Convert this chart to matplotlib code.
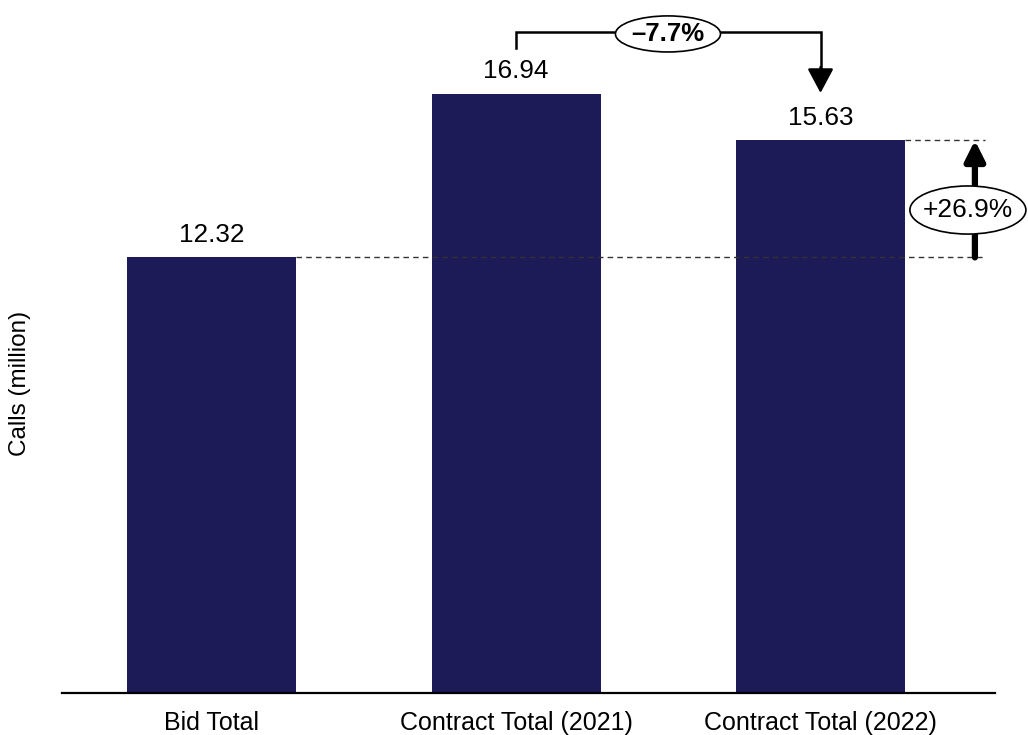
import matplotlib
matplotlib.use('Agg')
import matplotlib.pyplot as plt
from matplotlib.patches import Ellipse

plt.rcParams['font.family'] = ['Liberation Sans', 'DejaVu Sans']

categories = ['Bid Total', 'Contract Total (2021)', 'Contract Total (2022)']
calls = [12.32, 16.94, 15.63]
change_2021_2022 = '\u20137.7%'
change_bid_2022 = '+26.9%'

bar_color = '#1c1a57'

fig = plt.figure(figsize=(10.28, 7.35), dpi=100)
ax = fig.add_axes([62/1028, 42/735, 933/1028, 693/735])

x = list(range(len(categories)))
bar_w = 0.555
ax.bar(x, calls, width=bar_w, color=bar_color, zorder=2)

for xi, v in zip(x, calls):
    ax.text(xi, v + 0.3, f'{v:.2f}', ha='center', va='bottom', fontsize=18.8)

ax.set_xlim(-0.491, 2.573)
ax.set_ylim(0, 19.6)
for s in ['top', 'right', 'left']:
    ax.spines[s].set_visible(False)
ax.spines['bottom'].set_linewidth(1.6)
ax.set_yticks([])
ax.set_xticks(x)
ax.set_xticklabels(categories, fontsize=18)
ax.tick_params(axis='x', length=0, pad=13)

fig.text(20/1028, 1 - 383/735, 'Calls (million)', rotation=90,
         ha='center', va='center', fontsize=17.5)

# dashed reference lines
x_end = 2.54
ax.plot([x[0] + bar_w/2, x_end], [calls[0], calls[0]], ls=(0, (4, 3)),
        color='#333333', lw=1, zorder=3, clip_on=False)
ax.plot([x[2] + bar_w/2, x_end], [calls[2], calls[2]], ls=(0, (4, 3)),
        color='#333333', lw=1, zorder=3, clip_on=False)

# bracket 2021 -> 2022
top = 18.7
ax.plot([x[1], x[1], x[2], x[2]], [18.25, top, top, 17.6], color='black',
        lw=1.8, clip_on=False, solid_joinstyle='miter')
ax.annotate('', xy=(x[2], 16.97), xytext=(x[2], 17.7),
            arrowprops=dict(arrowstyle='-|>,head_width=0.4,head_length=0.75',
                            color='black', lw=1.8, mutation_scale=20,
                            shrinkA=0, shrinkB=0),
            annotation_clip=False)
ax.add_patch(Ellipse((1.499, 18.64), 0.345, 1.02, facecolor='white',
                     edgecolor='black', lw=1.2, zorder=5, clip_on=False))
ax.text(1.499, 18.64, change_2021_2022, ha='center', va='center',
        fontsize=18.5, fontweight='bold', zorder=6, clip_on=False)

# bid -> 2022 arrow
xa = 2.507
ax.annotate('', xy=(xa, calls[2]), xytext=(xa, calls[0]),
            arrowprops=dict(arrowstyle='-|>,head_width=0.3,head_length=0.6',
                            color='black', lw=4.5, mutation_scale=20,
                            shrinkA=0, shrinkB=0),
            annotation_clip=False, zorder=4)
ax.add_patch(Ellipse((2.484, 13.66), 0.381, 1.36, facecolor='white',
                     edgecolor='black', lw=1.2, zorder=5, clip_on=False))
ax.text(2.484, 13.66, change_bid_2022, ha='center', va='center',
        fontsize=19, zorder=6, clip_on=False)

fig.savefig('out.png', dpi=100)
